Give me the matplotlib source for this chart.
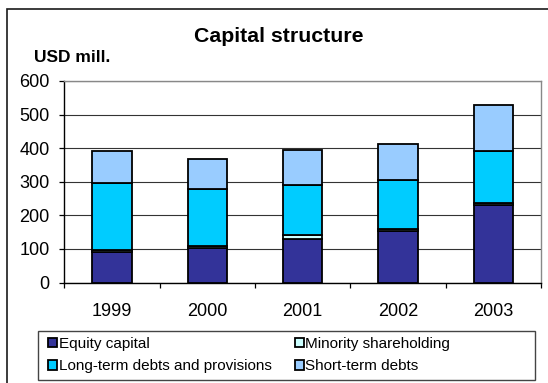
import matplotlib.pyplot as plt
from matplotlib.patches import Rectangle
from matplotlib.ticker import FixedLocator
import numpy as np

plt.rcParams['font.family'] = ['Liberation Sans', 'DejaVu Sans']

years = ['1999', '2000', '2001', '2002', '2003']
equity = [92, 103, 130, 152, 232]
minority = [5, 6, 12, 8, 6]
long_term = [200, 170, 147, 145, 154]
short_term = [95, 88, 107, 107, 136]

labels = ['Equity capital', 'Minority shareholding',
          'Long-term debts and provisions', 'Short-term debts']
colors = ['#333399', '#CCFFFF', '#00CCFF', '#99CCFF']

W, H = 548, 383
fig = plt.figure(figsize=(W / 100, H / 100), dpi=100)

# outer chart frame (only top and left edges fall inside the image)
fig.patches.append(Rectangle((7 / W, -0.5), 2.0, 1.5 - 8.5 / H,
                             transform=fig.transFigure, fill=False,
                             edgecolor='#1a1a1a', linewidth=1.2))

ax = fig.add_axes([64.3 / W, 1 - 282.5 / H, (541 - 64.3) / W, (282.5 - 81) / H])

x = np.arange(len(years))
series = [equity, minority, long_term, short_term]
bottom = np.zeros(len(years))
handles = []
for vals, col, lab in zip(series, colors, labels):
    b = ax.bar(x, vals, 0.41, bottom=bottom, color=col, edgecolor='black',
               linewidth=1.3, label=lab, zorder=3)
    handles.append(b)
    bottom += np.array(vals)

ax.set_xlim(-0.5, 4.5)
ax.set_ylim(0, 600)
ax.set_yticks(range(0, 601, 100))
ax.yaxis.grid(True, color='#333333', linewidth=0.8, zorder=0)
ax.set_xticks(x)
ax.set_xticklabels(years)
ax.xaxis.set_minor_locator(FixedLocator(np.arange(-0.5, 5, 1)))
ax.tick_params(axis='x', which='major', length=0, pad=15, labelsize=13)
ax.tick_params(axis='x', which='minor', length=3.6, width=0.9, color='black')
ax.tick_params(axis='y', length=3.6, width=0.9, pad=7, labelsize=13)

for side in ['top', 'right']:
    ax.spines[side].set_color('#888888')
    ax.spines[side].set_linewidth(1.0)
for side in ['left', 'bottom']:
    ax.spines[side].set_color('black')
    ax.spines[side].set_linewidth(1.0)

fig.text(279 / W, 1 - 36 / H, 'Capital structure', ha='center', va='center',
         fontsize=15.3, fontweight='bold')
fig.text(34 / W, 1 - 57 / H, 'USD mill.', ha='left', va='center',
         fontsize=12.5, fontweight='bold')

# legend: entries without frame, box drawn separately
fig.patches.append(Rectangle((37.5 / W, 1 - 380 / H), (535 - 37.5) / W, 49 / H,
                             transform=fig.transFigure, fill=False,
                             edgecolor='#444444', linewidth=1.0))
order = [0, 2, 1, 3]
leg = fig.legend([handles[i] for i in order], [labels[i] for i in order],
                 ncol=2, loc='upper left', bbox_to_anchor=(48.3 / W, 1 - 337 / H),
                 borderaxespad=0, borderpad=0, fontsize=11,
                 handlelength=0.6, handleheight=0.6, handletextpad=0.1,
                 labelspacing=0.55, columnspacing=1.5, frameon=False)

fig.savefig('out.png', dpi=100)
